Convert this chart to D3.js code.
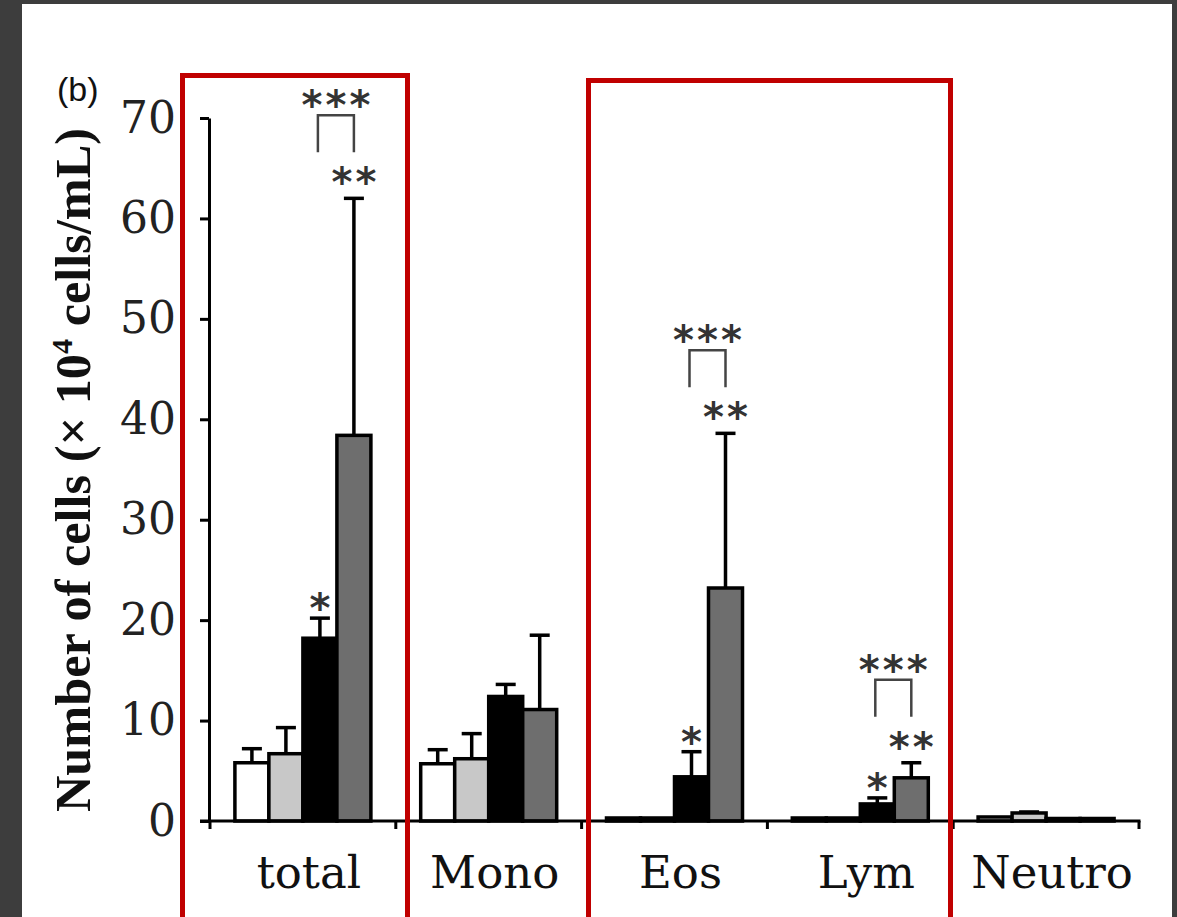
<!doctype html>
<html>
<head>
  <meta charset="utf-8" />
  <title>Number of cells</title>
  <script src="https://d3js.org/d3.v7.min.js"></script>
  <style>
    body { margin: 0; background: #3d3d3d; }
    svg { display: block; }
  </style>
</head>
<body>
  <svg></svg>
  <script>
    // cell types on the x axis
    var categories = ["total", "Mono", "Eos", "Lym", "Neutro"];
    // four groups, drawn left to right inside each cell type
    var groups = ["g1", "g2", "g3", "g4"];
    var groupFill = ["#ffffff", "#c8c8c8", "#000000", "#6e6e6e"];

    // mean values (x 10^4 cells/mL), one array per group, ordered as categories
    var g1Mean = [5.8, 5.7, 0.3, 0.3, 0.4];
    var g2Mean = [6.7, 6.2, 0.3, 0.3, 0.8];
    var g3Mean = [18.2, 12.4, 4.4, 1.7, 0.25];
    var g4Mean = [38.4, 11.1, 23.2, 4.3, 0.25];
    // upper error bar ends
    var g1Err = [7.2, 7.1, 0.3, 0.3, 0.4];
    var g2Err = [9.3, 8.7, 0.3, 0.3, 0.9];
    var g3Err = [20.2, 13.6, 6.9, 2.3, 0.25];
    var g4Err = [62.0, 18.5, 38.6, 5.8, 0.25];

    var yTicks = [0, 10, 20, 30, 40, 50, 60, 70];

    // significance marks
    var singleStars = [
      { cat: "total", group: "g3", label: "*" },
      { cat: "Eos", group: "g3", label: "*" },
      { cat: "Lym", group: "g3", label: "*" },
      { cat: "total", group: "g4", label: "**" },
      { cat: "Eos", group: "g4", label: "**" },
      { cat: "Lym", group: "g4", label: "**" }
    ];
    var brackets = [
      { cat: "total", from: "g3", to: "g4", label: "***" },
      { cat: "Eos", from: "g3", to: "g4", label: "***" },
      { cat: "Lym", from: "g3", to: "g4", label: "***" }
    ];
    // highlighted category spans
    var highlights = [["total", "total"], ["Eos", "Lym"]];

    var means = [g1Mean, g2Mean, g3Mean, g4Mean],
      errs = [g1Err, g2Err, g3Err, g4Err];

    var width = 1177,
      height = 917;

    var svg = d3.select("svg").attr("width", width).attr("height", height);

    svg.append("rect")
      .attr("x", 22).attr("y", 4)
      .attr("width", 1150).attr("height", height)
      .attr("fill", "#ffffff");

    var x = d3.scaleBand().domain(categories).range([210, 1139]);
    var xg = d3.scaleBand().domain(groups).range([0, 136]);
    var y = d3.scaleLinear().domain([0, 70]).range([821, 118]);

    var off = (x.bandwidth() - 136) / 2;

    function barX(cat, g) {
      return x(cat) + off + xg(g);
    }

    function errTop(cat, g) {
      return y(errs[groups.indexOf(g)][categories.indexOf(cat)]);
    }

    var data = [];
    categories.forEach(function(c, i) {
      groups.forEach(function(g, j) {
        data.push({ cat: c, group: g, mean: means[j][i], err: errs[j][i], fill: groupFill[j] });
      });
    });

    // bars
    svg.append("g")
      .selectAll("rect")
      .data(data)
      .enter()
      .append("rect")
      .attr("x", function(d) { return barX(d.cat, d.group); })
      .attr("y", function(d) { return y(d.mean); })
      .attr("width", xg.bandwidth())
      .attr("height", function(d) { return y(0) - y(d.mean); })
      .attr("fill", function(d) { return d.fill; })
      .attr("stroke", "#000")
      .attr("stroke-width", 3.5);

    // error bars (upper only)
    var eb = svg.append("g").attr("stroke", "#000").attr("stroke-width", 3.5);
    data.filter(function(d) { return d.err > d.mean; }).forEach(function(d) {
      var cx = barX(d.cat, d.group) + xg.bandwidth() / 2;
      eb.append("line")
        .attr("x1", cx).attr("x2", cx)
        .attr("y1", y(d.mean)).attr("y2", y(d.err));
      eb.append("line")
        .attr("x1", cx - 10).attr("x2", cx + 10)
        .attr("y1", y(d.err)).attr("y2", y(d.err));
    });

    // y axis
    var yAxis = svg.append("g")
      .attr("transform", "translate(209,0)")
      .call(d3.axisLeft(y).tickValues(yTicks).tickSize(9).tickSizeOuter(0).tickPadding(24));
    yAxis.selectAll("path, line").attr("stroke", "#000").attr("stroke-width", 3);
    yAxis.selectAll("text")
      .attr("font-family", "'DejaVu Serif', serif")
      .attr("font-size", 44)
      .attr("fill", "#222");

    // x axis line with boundary ticks
    var bounds = categories.map(function(c) { return x(c); }).concat([x.range()[1]]);
    var xa = svg.append("g").attr("stroke", "#000").attr("stroke-width", 3);
    xa.append("line")
      .attr("x1", 200).attr("x2", x.range()[1] + 1.5)
      .attr("y1", y(0)).attr("y2", y(0));
    xa.selectAll(".tick")
      .data(bounds)
      .enter()
      .append("line")
      .attr("x1", function(d) { return d; })
      .attr("x2", function(d) { return d; })
      .attr("y1", y(0)).attr("y2", y(0) + 8);

    // category labels
    svg.append("g")
      .selectAll("text")
      .data(categories)
      .enter()
      .append("text")
      .attr("x", function(d) { return x(d) + x.bandwidth() / 2 + 6; })
      .attr("y", 888)
      .attr("text-anchor", "middle")
      .attr("font-family", "'DejaVu Serif', serif")
      .attr("font-size", 45)
      .attr("fill", "#111")
      .text(function(d) { return d; });

    // asterisks, drawn one glyph at a time
    function stars(cx, cy, label) {
      var n = label.length;
      for (var i = 0; i < n; i++) {
        svg.append("text")
          .attr("x", cx + (i - (n - 1) / 2) * 24)
          .attr("y", cy + 24)
          .attr("text-anchor", "middle")
          .attr("font-family", "'DejaVu Sans', sans-serif")
          .attr("font-weight", "bold")
          .attr("font-size", 40)
          .attr("fill", "#333")
          .text("*");
      }
    }

    singleStars.forEach(function(s) {
      var cx = barX(s.cat, s.group) + xg.bandwidth() / 2;
      stars(cx, errTop(s.cat, s.group) - (s.label.length > 1 ? 26 : 20), s.label);
    });

    brackets.forEach(function(b) {
      var x1 = barX(b.cat, b.from) + xg.bandwidth() / 2 - 2,
        x2 = barX(b.cat, b.to) + xg.bandwidth() / 2,
        bottom = errTop(b.cat, b.to) - 46,
        top = bottom - 37;
      svg.append("path")
        .attr("d", "M" + x1 + "," + bottom + "V" + top + "H" + x2 + "V" + bottom)
        .attr("fill", "none")
        .attr("stroke", "#444")
        .attr("stroke-width", 2.5);
      stars((x1 + x2) / 2, top - 20, b.label);
    });

    // y axis title
    var title = svg.append("text")
      .attr("transform", "translate(90,470) rotate(-90)")
      .attr("text-anchor", "middle")
      .attr("font-family", "'Liberation Serif', serif")
      .attr("font-weight", "bold")
      .attr("font-size", 50)
      .attr("fill", "#111")
      .attr("textLength", 684)
      .attr("lengthAdjust", "spacingAndGlyphs");
    title.append("tspan").text("Number of cells (× 10");
    title.append("tspan").attr("font-size", 30).attr("dy", -18).text("4");
    title.append("tspan").attr("dy", 18).text(" cells/mL)");

    // panel label
    svg.append("text")
      .attr("x", 57).attr("y", 101)
      .attr("font-family", "'Liberation Sans', Arial, sans-serif")
      .attr("font-size", 34)
      .attr("fill", "#111")
      .text("(b)");

    // red highlight boxes
    svg.append("g")
      .selectAll("rect")
      .data(highlights)
      .enter()
      .append("rect")
      .attr("x", function(d, i) { return i == 0 ? 182.5 : 588.5; })
      .attr("y", function(d, i) { return i == 0 ? 75.5 : 80.5; })
      .attr("width", function(d, i) { return i == 0 ? 225 : 362; })
      .attr("height", 900)
      .attr("fill", "none")
      .attr("stroke", "#c00000")
      .attr("stroke-width", 5);
  </script>
</body>
</html>
